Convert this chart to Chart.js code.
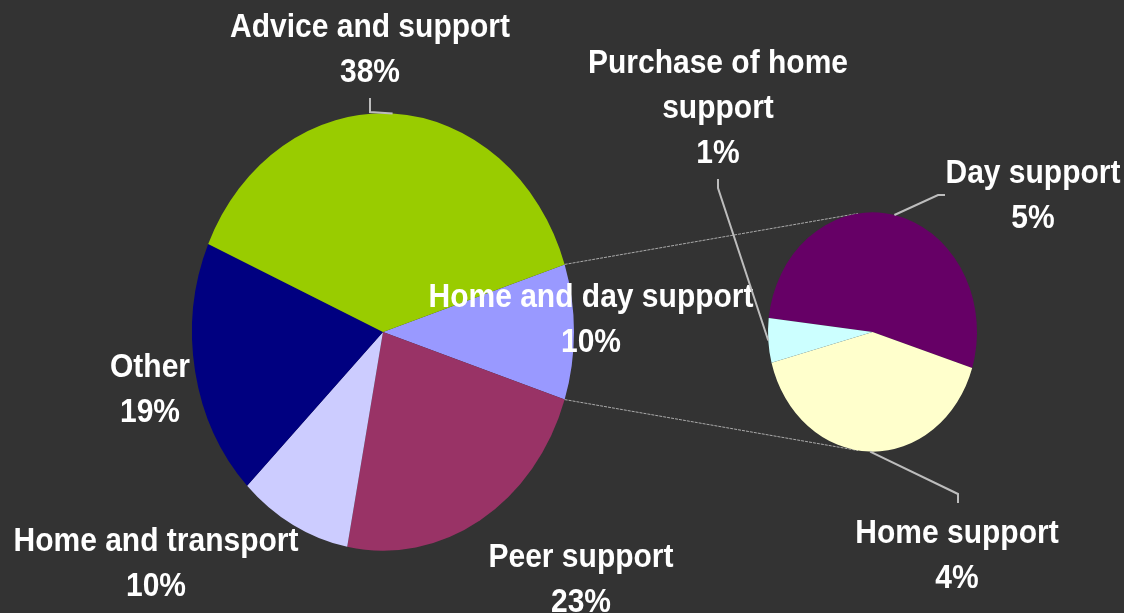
<!DOCTYPE html>
<html>
<head>
<meta charset="utf-8">
<title>Spending by type of support</title>
<script src="https://cdn.jsdelivr.net/npm/chart.js@4.4.1/dist/chart.umd.min.js"></script>
<style>
  body { margin: 0; background: #333333; }
  #wrap { position: relative; width: 1124px; height: 613px; }
  #wrap canvas { position: absolute; left: 0; top: 0; }
</style>
</head>
<body>
<div id="wrap">
  <canvas id="mainPie" width="1124" height="613"></canvas>
  <canvas id="subPie" width="1124" height="613"></canvas>
</div>
<script>
// breakdown of "Home and day support" (% of total)
const subLabels = ["Day support", "Home support", "Purchase of home support"];
const subValues = [5.3, 4.1, 0.6];
const subColors = ["#660066", "#FFFFCC", "#CCFFFF"];

// main pie (% of total), starting with the slice that is split out
const mainLabels = ["Home and day support", "Peer support", "Home and transport", "Other", "Advice and support"];
const mainValues = [subValues.reduce((a, b) => a + b, 0), 23.0, 9.6, 19.0, 38.4];
const mainColors = ["#9999FF", "#993366", "#CCCCFF", "#000080", "#99CC00"];

// label placement: centre x, first baseline, optional elbow of the leader line
const mainLabelPos = [
  { x: 591, y: 307 },
  { x: 581, y: 567 },
  { x: 156, y: 551 },
  { x: 150, y: 377 },
  { x: 370, y: 37, leader: [[370, 98], [370, 112]] }
];
const subLabelPos = [
  { x: 1033, y: 183, leader: [[945, 195], [938, 195]] },
  { x: 957, y: 543, leader: [[958, 503], [958, 494]] },
  { x: 718, y: 73, wrap: 300, leader: [[718, 179], [718, 188]] }
];

const STRETCH = 1.145;   // pies are drawn as upright ellipses
const TEXT_STRETCH = 1.12;
const LINE_H = 45;

function edgePoint(arc, angle) {
  return [arc.x + Math.cos(angle) * arc.outerRadius,
          arc.y + Math.sin(angle) * arc.outerRadius * STRETCH];
}

function wrapText(ctx, text, maxW) {
  const words = text.split(" ");
  const lines = [];
  let cur = "";
  words.forEach(w => {
    const next = cur ? cur + " " + w : w;
    if (cur && ctx.measureText(next).width > maxW) {
      lines.push(cur);
      cur = w;
    } else {
      cur = next;
    }
  });
  if (cur) lines.push(cur);
  return lines;
}

const ellipsePlugin = {
  id: "ellipse",
  beforeDatasetsDraw(chart) {
    const arc = chart.getDatasetMeta(0).data[0];
    const ctx = chart.ctx;
    ctx.save();
    ctx.translate(arc.x, arc.y);
    ctx.scale(1, STRETCH);
    ctx.translate(-arc.x, -arc.y);
  },
  afterDatasetsDraw(chart) {
    chart.ctx.restore();
  }
};

const sliceLabels = {
  id: "sliceLabels",
  afterDraw(chart, args, opts) {
    const ctx = chart.ctx;
    const values = chart.data.datasets[0].data;
    ctx.save();
    ctx.font = 'bold 30px "Liberation Sans", Arial, sans-serif';
    ctx.textAlign = "center";
    ctx.textBaseline = "alphabetic";
    chart.getDatasetMeta(0).data.forEach((arc, i) => {
      const pos = opts.layout[i];
      if (pos.leader) {
        const mid = (arc.startAngle + arc.endAngle) / 2;
        const pts = pos.leader.concat([edgePoint(arc, mid)]);
        ctx.beginPath();
        ctx.moveTo(pts[0][0], pts[0][1]);
        pts.slice(1).forEach(p => ctx.lineTo(p[0], p[1]));
        ctx.strokeStyle = "#bdbdbd";
        ctx.lineWidth = 2;
        ctx.stroke();
      }
      const lines = wrapText(ctx, chart.data.labels[i], pos.wrap || Infinity);
      lines.push(Math.round(values[i]) + "%");
      ctx.fillStyle = "#ffffff";
      lines.forEach((t, k) => {
        ctx.save();
        ctx.translate(pos.x, pos.y + k * LINE_H);
        ctx.scale(1, TEXT_STRETCH);
        ctx.fillText(t, 0, 0);
        ctx.restore();
      });
    });
    ctx.restore();
  }
};

// padding that puts a pie of radius r at (cx, cy)
function padFor(cx, cy, r) {
  const ry = r * STRETCH;
  return { left: cx - r, right: 1124 - cx - r, top: cy - ry, bottom: 613 - cy - ry };
}

function pieConfig(labels, values, colors, rotation, center, r, layout, extraPlugins) {
  return {
    type: "pie",
    data: {
      labels: labels,
      datasets: [{ data: values, backgroundColor: colors, borderWidth: 0 }]
    },
    options: {
      responsive: false,
      animation: false,
      events: [],
      rotation: rotation,
      radius: r,
      layout: { padding: padFor(center[0], center[1], r) },
      plugins: {
        legend: { display: false },
        tooltip: { enabled: false },
        sliceLabels: { layout: layout }
      }
    },
    plugins: extraPlugins.concat([ellipsePlugin, sliceLabels])
  };
}

const mainChart = new Chart(document.getElementById("mainPie"),
  pieConfig(mainLabels, mainValues, mainColors, 72, [383, 332], 191, mainLabelPos, []));

// thin lines joining the split slice to the second pie
const connectors = {
  id: "connectors",
  beforeDatasetsDraw(chart) {
    const split = mainChart.getDatasetMeta(0).data[0];
    const sub = chart.getDatasetMeta(0).data[0];
    const tilt = 8 * Math.PI / 180;
    const pairs = [
      [edgePoint(split, split.startAngle), edgePoint(sub, -Math.PI / 2 - tilt)],
      [edgePoint(split, split.endAngle), edgePoint(sub, Math.PI / 2 + tilt)]
    ];
    const ctx = chart.ctx;
    ctx.save();
    ctx.strokeStyle = "rgba(200,200,200,0.8)";
    ctx.lineWidth = 1;
    ctx.setLineDash([3, 1]);
    pairs.forEach(([a, b]) => {
      ctx.beginPath();
      ctx.moveTo(a[0], a[1]);
      ctx.lineTo(b[0], b[1]);
      ctx.stroke();
    });
    ctx.restore();
  }
};

const subChart = new Chart(document.getElementById("subPie"),
  pieConfig(subLabels, subValues, subColors, 276.7, [872.5, 332], 104.5, subLabelPos, [connectors]));
</script>
</body>
</html>
